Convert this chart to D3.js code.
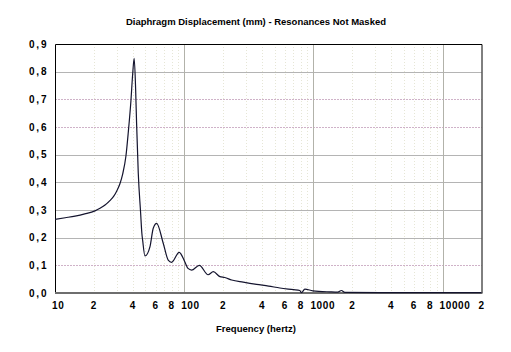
<!DOCTYPE html>
<html>
<head>
<meta charset="utf-8">
<script src="https://cdn.jsdelivr.net/npm/d3@7"></script>
<style>
body{margin:0;background:#fff;}
text{font-family:"Liberation Sans",Arial,sans-serif;font-weight:bold;fill:#000;}
</style>
</head>
<body>
<div id="chart"></div>
<script>
// curve
var freqHz = [10,12,14.3,17,20.4,22.3,24.4,26.6,28.5,30,31.8,33.4,35.4,36.9,38.7,39.9,41,
  42.1,42.8,44.1,46,47,47.7,49.7,54.3,57.6,61.2,68.8,75.2,79.9,91.5,101,107,114,131,153,168,
  189,206,233,286,363,450,550,700,785,809,858,989,1340,1545,1649,1750,4660,20000];
var displacementMm = [0.266,0.272,0.278,0.286,0.297,0.306,0.318,0.334,0.35,0.368,0.395,0.43,0.495,0.58,0.695,0.79,0.848,
  0.734,0.614,0.434,0.289,0.217,0.19,0.134,0.167,0.234,0.252,0.18,0.119,0.111,0.147,0.113,0.089,0.083,0.1,0.066,0.077,
  0.059,0.056,0.047,0.039,0.031,0.025,0.018,0.012,0.009,0.001,0.014,0.008,0.004,0.003,0.009,0.002,0.001,0.001];

var yTicks = [0,0.1,0.2,0.3,0.4,0.5,0.6,0.7,0.8,0.9];
var yTickLabels = ["0,0","0,1","0,2","0,3","0,4","0,5","0,6","0,7","0,8","0,9"];
var dottedRows = [0.1,0.6,0.7];
var xTicks = [10,20,40,60,80,100,200,400,600,800,1000,2000,4000,6000,8000,10000,20000];
var xTickLabels = ["10","2","4","6","8","100","2","4","6","8","1000","2","4","6","8","10000","2"];
var decades = [100,1000,10000];
var minorSteps = [2,3,4,5,6,7,8,9];

var titleText = "Diaphragm Displacement (mm) - Resonances Not Masked";
var xTitle = "Frequency (hertz)";

var W = 511, H = 352;
var plotL = 55, plotR = 481.5, plotT = 44, plotB = 293;

var svg = d3.select("#chart").append("svg")
  .attr("width", W)
  .attr("height", H);

var x = d3.scaleLog().domain([10,20000]).range([plotL,plotR]);
var y = d3.scaleLinear().domain([0,0.9]).range([plotB,plotT]);

// minor vertical grid (very faint)
var minor = [];
[10,100,1000].forEach(function(d){
  minorSteps.forEach(function(k){ if(d*k!=100 && d*k!=1000 && d*k!=10000) minor.push(d*k); });
});
svg.selectAll(".minorV")
  .data(minor)
  .enter()
  .append("line")
  .attr("class","minorV")
  .attr("x1",function(d){return Math.round(x(d))+0.5;})
  .attr("x2",function(d){return Math.round(x(d))+0.5;})
  .attr("y1",plotT)
  .attr("y2",plotB)
  .style("stroke","#e6e6d6")
  .style("stroke-dasharray","1,2");

// horizontal grid
svg.selectAll(".gridH")
  .data(yTicks.slice(1,9))
  .enter()
  .append("line")
  .attr("class","gridH")
  .attr("x1",plotL)
  .attr("x2",plotR)
  .attr("y1",function(d){return Math.round(y(d))+0.5;})
  .attr("y2",function(d){return Math.round(y(d))+0.5;})
  .style("stroke",function(d){return dottedRows.indexOf(d)>-1 ? "#cfb2c8" : "#b4b4b4";})
  .style("stroke-dasharray",function(d){return dottedRows.indexOf(d)>-1 ? "2,1" : null;});

// decade lines
svg.selectAll(".gridV")
  .data(decades)
  .enter()
  .append("line")
  .attr("class","gridV")
  .attr("x1",function(d){return Math.round(x(d))+0.5;})
  .attr("x2",function(d){return Math.round(x(d))+0.5;})
  .attr("y1",plotT)
  .attr("y2",plotB)
  .style("stroke","#b2b2aa");

// frame
svg.append("path")
  .attr("d","M"+(plotL+0.5)+","+plotB+"V"+(plotT+0.5)+"H"+(plotR+0.5)+"V"+plotB)
  .style("fill","none")
  .style("stroke","#000");
svg.append("line")
  .attr("x1",plotL)
  .attr("x2",plotR+1)
  .attr("y1",plotB)
  .attr("y2",plotB)
  .style("stroke","#6e6e6e")
  .style("stroke-width",2);

// the curve
var pts = freqHz.map(function(f,i){return [f,displacementMm[i]];});
var line = d3.line()
  .x(function(d){return x(d[0]);})
  .y(function(d){return y(d[1]);})
  .curve(d3.curveMonotoneX);
svg.append("path")
  .datum(pts)
  .attr("d",line)
  .style("fill","none")
  .style("stroke","#14142e")
  .style("stroke-width",1.2);

// y labels
svg.selectAll(".ylabel")
  .data(yTicks)
  .enter()
  .append("text")
  .attr("class","ylabel")
  .attr("x",29)
  .attr("y",function(d){return y(d);})
  .attr("dy","0.36em")
  .style("font-size","10px")
  .style("letter-spacing","1.8px")
  .text(function(d,i){return yTickLabels[i];});

// x labels
svg.selectAll(".xlabel")
  .data(xTicks)
  .enter()
  .append("text")
  .attr("class","xlabel")
  .attr("x",function(d,i){
    var t = xTickLabels[i];
    return t.length>1 ? x(d)-3 : x(d);
  })
  .attr("y",309)
  .attr("text-anchor",function(d,i){return xTickLabels[i].length>1 ? "start" : "middle";})
  .style("font-size","10px")
  .style("letter-spacing","0.6px")
  .text(function(d,i){return xTickLabels[i];});

// titles
svg.append("text")
  .attr("x",126)
  .attr("y",25)
  .attr("textLength",260)
  .attr("lengthAdjust","spacingAndGlyphs")
  .style("font-size","9.5px")
  .text(titleText);

svg.append("text")
  .attr("x",216)
  .attr("y",332)
  .attr("textLength",80)
  .attr("lengthAdjust","spacingAndGlyphs")
  .style("font-size","9.5px")
  .text(xTitle);
</script>
</body>
</html>
